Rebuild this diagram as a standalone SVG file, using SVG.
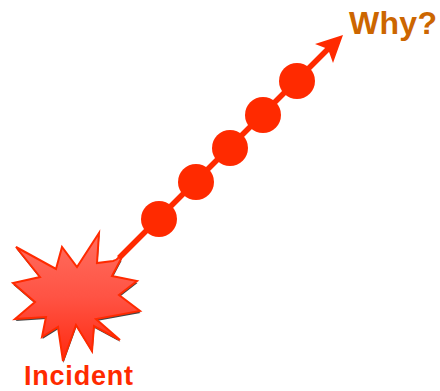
<svg xmlns="http://www.w3.org/2000/svg" width="440" height="391" viewBox="0 0 440 391">
<style>
.c{fill:#ff2a00}
.l{stroke:#ff2a00;stroke-width:5.5;fill:none}
text{font-family:"Liberation Sans",Arial,sans-serif;font-weight:bold}
</style>
<defs>
<linearGradient id="g" x1="0" y1="0" x2="0" y2="1">
<stop offset="0" stop-color="#ff6f60"/>
<stop offset="0.5" stop-color="#ff5344"/>
<stop offset="1" stop-color="#ff2a10"/>
</linearGradient>
<filter id="s" x="-10%" y="-10%" width="120%" height="120%"><feGaussianBlur stdDeviation="0.6"/></filter>
</defs>
<g id="connectors">
<path class="l" d="M119 258L331 46"/>
<path class="c" d="M343 35L333 63L328 49L315 44Z"/>
</g>
<g id="incident">
<path id="star-shadow" filter="url(#s)" fill="#444" transform="translate(0.5,2)" d="M16 247L56 269L62 247L77 267L99 233L97 263L113 261Q117 260 119 257L121 259L112 276L137 281L119 295L140 311L96 319L120 340L94 326L92 351L76 325L63 361L58 327L42 337L46 317L15 319L35 302L13 283L40 277Z"/>
<path fill="url(#g)" stroke="#ff2a00" stroke-width="2" stroke-linejoin="miter" d="M16 247L56 269L62 247L77 267L99 233L97 263L113 261Q117 260 119 257L121 259L112 276L137 281L119 295L140 311L96 319L120 340L94 326L92 351L76 325L63 361L58 327L42 337L46 317L15 319L35 302L13 283L40 277Z"/>
<text x="78.500" y="385" font-size="27" fill="#ff2a00" text-anchor="middle" textLength="109">Incident</text>
</g>
<g id="node-1"><circle class="c" cx="159" cy="219" r="18"/></g>
<g id="node-2"><circle class="c" cx="196" cy="182" r="18"/></g>
<g id="node-3"><circle class="c" cx="230" cy="148" r="18"/></g>
<g id="node-4"><circle class="c" cx="263" cy="115" r="18"/></g>
<g id="node-5"><circle class="c" cx="297" cy="81" r="18"/></g>
<g id="why"><text x="349" y="34" font-size="32" fill="#cc6600" textLength="88">Why?</text></g>
</svg>
